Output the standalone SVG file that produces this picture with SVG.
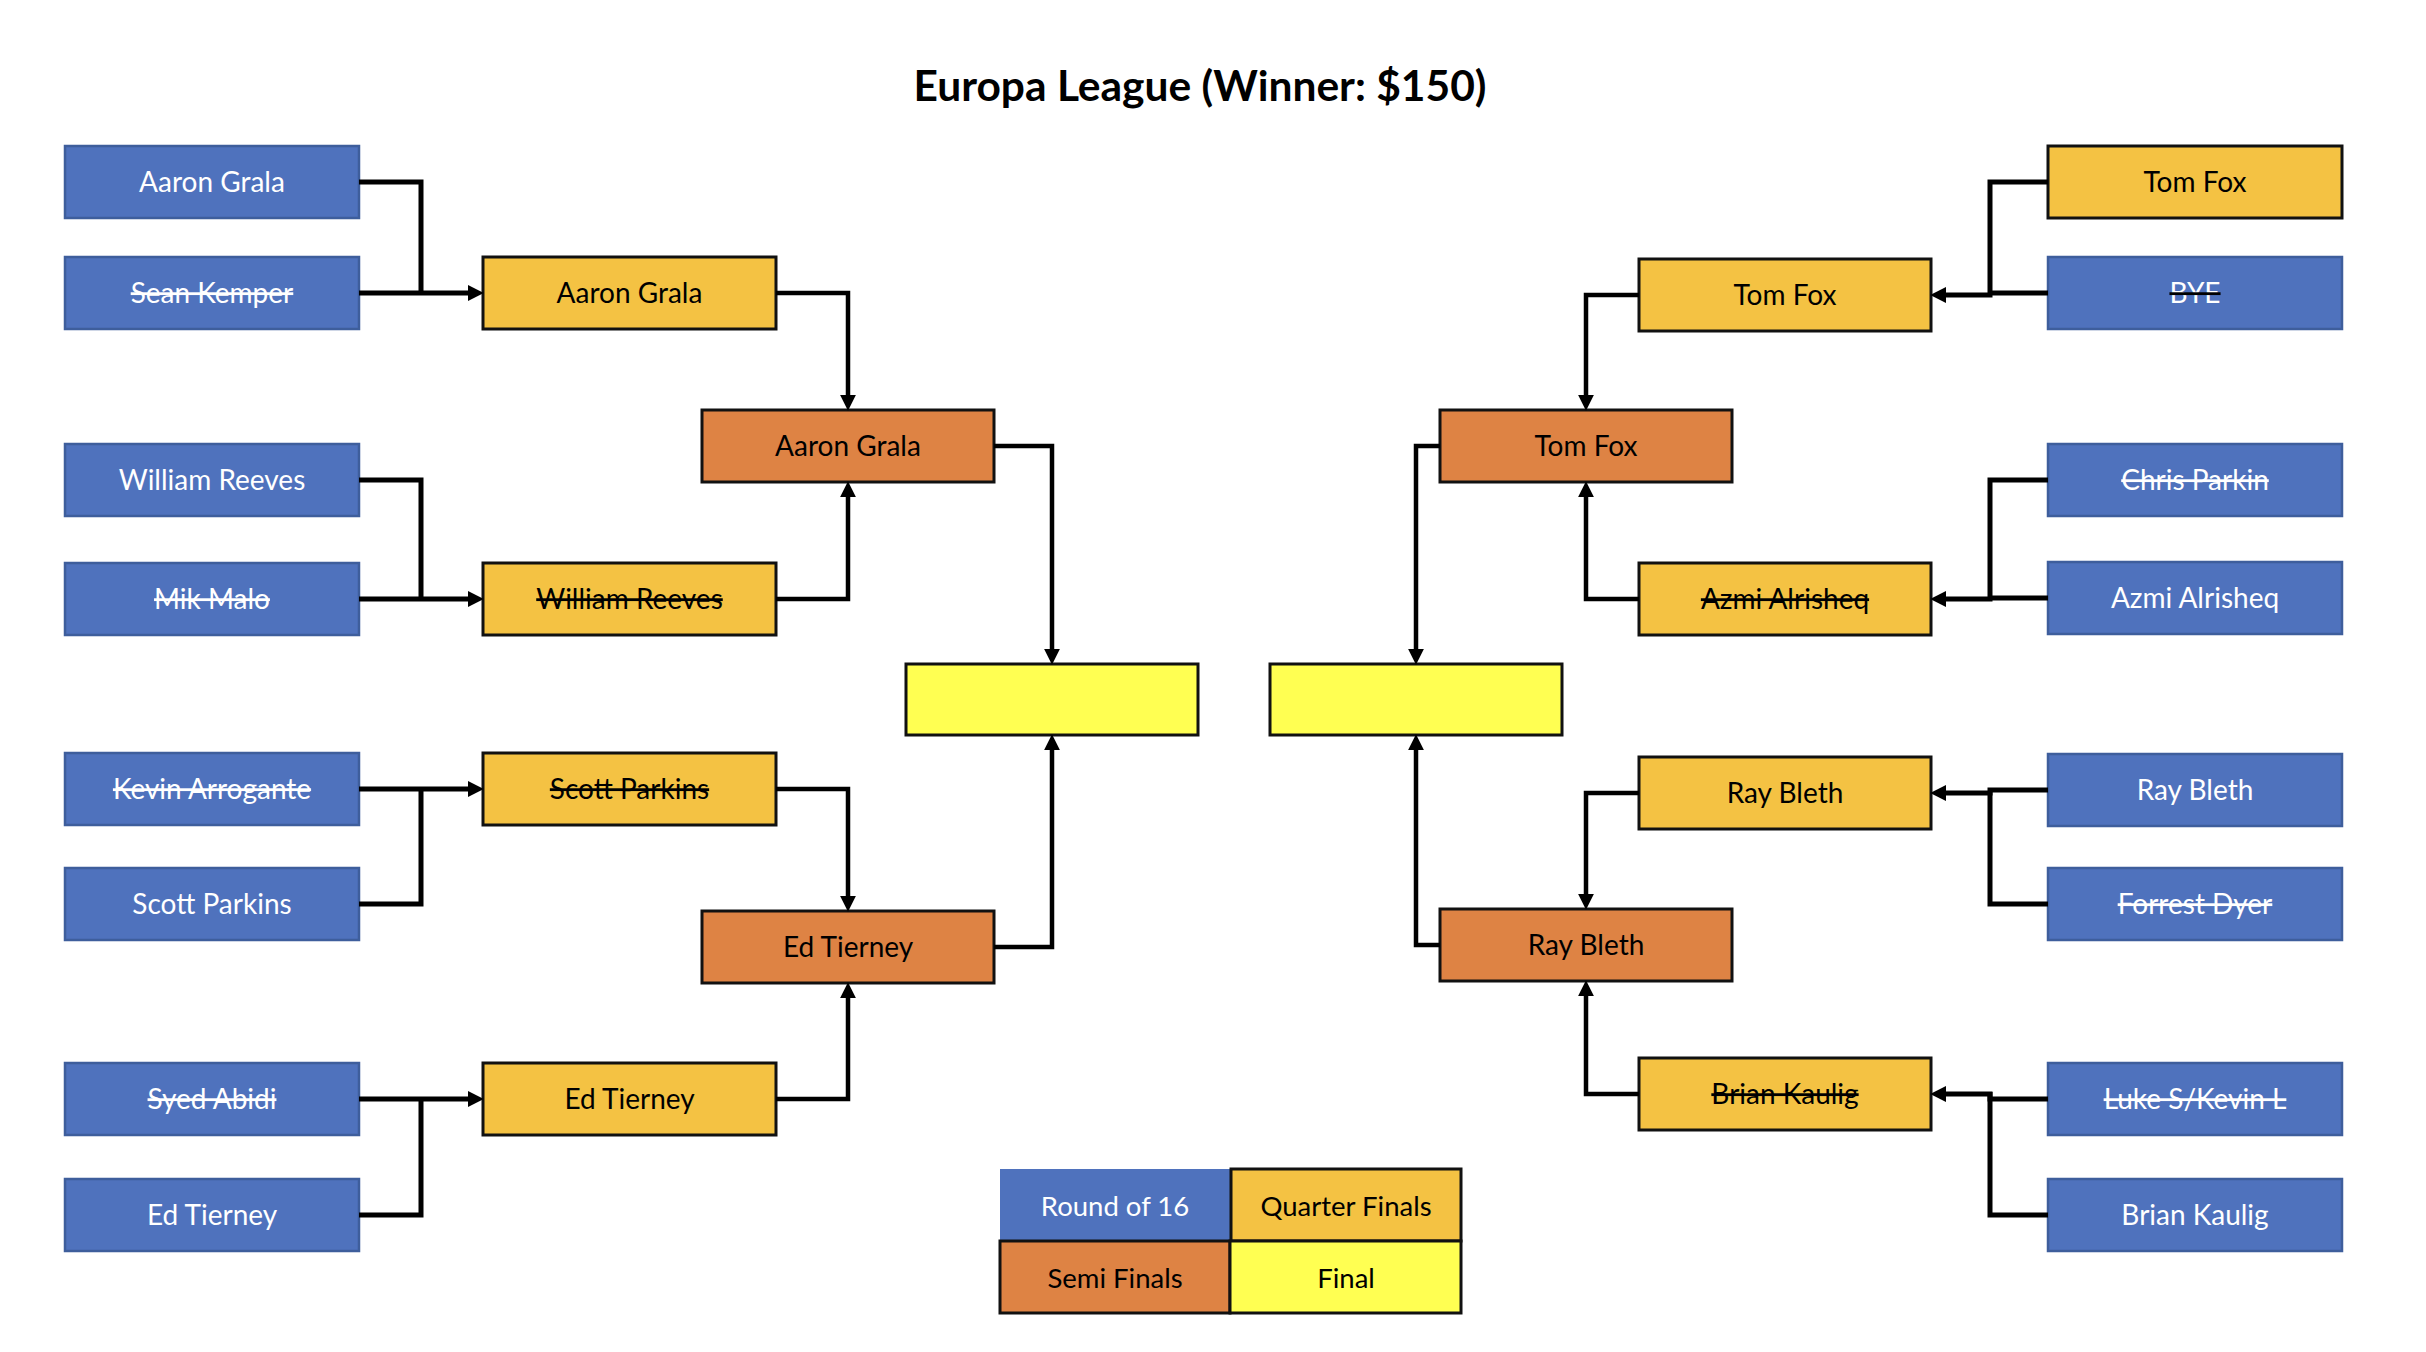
<svg xmlns="http://www.w3.org/2000/svg" width="2426" height="1352" viewBox="0 0 2426 1352">
<style>
text{font-family:Lato,"Liberation Sans",sans-serif;text-anchor:middle}
.t{font-size:28px}
.w{fill:#fff}
.k{fill:#000}
.s{text-decoration:line-through}
.r16{fill:#4F72BD;stroke:#3E5E9C;stroke-width:2.5}
.qf{fill:#F4C243;stroke:#111;stroke-width:3}
.sf{fill:#DE8344;stroke:#111;stroke-width:3}
.fn{fill:#FFFF52;stroke:#111;stroke-width:3}
.c{fill:none;stroke:#000;stroke-width:4.5}
.c5{fill:none;stroke:#000;stroke-width:5}
.lg{font-size:27.5px}
</style>
<defs>
<marker id="ah" markerUnits="userSpaceOnUse" markerWidth="16" markerHeight="16" viewBox="0 0 15 15" refX="3" refY="7.5" orient="auto">
<path d="M0,0 L15,7.5 L0,15 z" fill="#000"/>
</marker>
</defs>
<rect width="2426" height="1352" fill="#fff"/>
<text x="1200" y="101" style="font-size:42.5px;font-weight:700">Europa League (Winner: $150)</text>

<!-- Left round of 16 -->
<g id="l16-1"><rect class="r16" x="65" y="146" width="294" height="72"/><text class="t w" x="212" y="192">Aaron Grala</text></g>
<g id="l16-2"><rect class="r16" x="65" y="257" width="294" height="72"/><text class="t w s" x="212" y="303">Sean Kemper</text></g>
<g id="l16-3"><rect class="r16" x="65" y="444" width="294" height="72"/><text class="t w" x="212" y="490">William Reeves</text></g>
<g id="l16-4"><rect class="r16" x="65" y="563" width="294" height="72"/><text class="t w s" x="212" y="609">Mik Malo</text></g>
<g id="l16-5"><rect class="r16" x="65" y="753" width="294" height="72"/><text class="t w s" x="212" y="799">Kevin Arrogante</text></g>
<g id="l16-6"><rect class="r16" x="65" y="868" width="294" height="72"/><text class="t w" x="212" y="914">Scott Parkins</text></g>
<g id="l16-7"><rect class="r16" x="65" y="1063" width="294" height="72"/><text class="t w s" x="212" y="1109">Syed Abidi</text></g>
<g id="l16-8"><rect class="r16" x="65" y="1179" width="294" height="72"/><text class="t w" x="212" y="1225">Ed Tierney</text></g>

<!-- Left quarter finals -->
<g id="lqf-1"><rect class="qf" x="483" y="257" width="293" height="72"/><text class="t k" x="629.5" y="303">Aaron Grala</text></g>
<g id="lqf-2"><rect class="qf" x="483" y="563" width="293" height="72"/><text class="t k s" x="629.5" y="609">William Reeves</text></g>
<g id="lqf-3"><rect class="qf" x="483" y="753" width="293" height="72"/><text class="t k s" x="629.5" y="799">Scott Parkins</text></g>
<g id="lqf-4"><rect class="qf" x="483" y="1063" width="293" height="72"/><text class="t k" x="629.5" y="1109">Ed Tierney</text></g>

<!-- Left semi finals -->
<g id="lsf-1"><rect class="sf" x="702" y="410" width="292" height="72"/><text class="t k" x="848" y="456">Aaron Grala</text></g>
<g id="lsf-2"><rect class="sf" x="702" y="911" width="292" height="72"/><text class="t k" x="848" y="957">Ed Tierney</text></g>

<!-- Finals -->
<g id="final-l"><rect class="fn" x="906" y="664" width="292" height="71"/></g>
<g id="final-r"><rect class="fn" x="1270" y="664" width="292" height="71"/></g>

<!-- Right semi finals -->
<g id="rsf-1"><rect class="sf" x="1440" y="410" width="292" height="72"/><text class="t k" x="1586" y="456">Tom Fox</text></g>
<g id="rsf-2"><rect class="sf" x="1440" y="909" width="292" height="72"/><text class="t k" x="1586" y="955">Ray Bleth</text></g>

<!-- Right quarter finals -->
<g id="rqf-1"><rect class="qf" x="1639" y="259" width="292" height="72"/><text class="t k" x="1785" y="305">Tom Fox</text></g>
<g id="rqf-2"><rect class="qf" x="1639" y="563" width="292" height="72"/><text class="t k s" x="1785" y="609">Azmi Alrisheq</text></g>
<g id="rqf-3"><rect class="qf" x="1639" y="757" width="292" height="72"/><text class="t k" x="1785" y="803">Ray Bleth</text></g>
<g id="rqf-4"><rect class="qf" x="1639" y="1058" width="292" height="72"/><text class="t k s" x="1785" y="1104">Brian Kaulig</text></g>

<!-- Right round of 16 -->
<g id="r16-1"><rect class="qf" x="2048" y="146" width="294" height="72"/><text class="t k" x="2195" y="192">Tom Fox</text></g>
<g id="r16-2"><rect class="r16" x="2048" y="257" width="294" height="72"/><text class="t k s" x="2195" y="303"><tspan class="w">BYE</tspan></text></g>
<g id="r16-3"><rect class="r16" x="2048" y="444" width="294" height="72"/><text class="t w s" x="2195" y="490">Chris Parkin</text></g>
<g id="r16-4"><rect class="r16" x="2048" y="562" width="294" height="72"/><text class="t w" x="2195" y="608">Azmi Alrisheq</text></g>
<g id="r16-5"><rect class="r16" x="2048" y="754" width="294" height="72"/><text class="t w" x="2195" y="800">Ray Bleth</text></g>
<g id="r16-6"><rect class="r16" x="2048" y="868" width="294" height="72"/><text class="t w s" x="2195" y="914">Forrest Dyer</text></g>
<g id="r16-7"><rect class="r16" x="2048" y="1063" width="294" height="72"/><text class="t w s" x="2195" y="1109">Luke S/Kevin L</text></g>
<g id="r16-8"><rect class="r16" x="2048" y="1179" width="294" height="72"/><text class="t w" x="2195" y="1225">Brian Kaulig</text></g>

<!-- Legend -->
<g id="legend">
<rect class="r16" x="1000" y="1169" width="231" height="72" style="stroke:none"/>
<rect class="qf" x="1231" y="1169" width="230" height="72"/>
<rect class="sf" x="1000" y="1241" width="230" height="72"/>
<rect class="fn" x="1230" y="1241" width="231" height="72"/>
<text class="lg w" x="1115" y="1215.5">Round of 16</text>
<text class="lg k" x="1346" y="1215.5">Quarter Finals</text>
<text class="lg k" x="1115" y="1287.5">Semi Finals</text>
<text class="lg k" x="1346" y="1287.5">Final</text>
</g>

<!-- Connectors -->
<g id="connectors">
<path class="c5" d="M359,182 H421 V295"/>
<path class="c5" d="M359,293 H471" marker-end="url(#ah)"/>
<path class="c5" d="M359,480 H421 V601"/>
<path class="c5" d="M359,599 H471" marker-end="url(#ah)"/>
<path class="c5" d="M359,904 H421 V787"/>
<path class="c5" d="M359,789 H471" marker-end="url(#ah)"/>
<path class="c5" d="M359,1215 H421 V1097"/>
<path class="c5" d="M359,1099 H471" marker-end="url(#ah)"/>

<path class="c" d="M776,293 H848 V398" marker-end="url(#ah)"/>
<path class="c" d="M776,599 H848 V494" marker-end="url(#ah)"/>
<path class="c" d="M776,789 H848 V899" marker-end="url(#ah)"/>
<path class="c" d="M776,1099 H848 V995" marker-end="url(#ah)"/>
<path class="c" d="M994,446 H1052 V652" marker-end="url(#ah)"/>
<path class="c" d="M994,947 H1052 V747" marker-end="url(#ah)"/>

<path class="c5" d="M2048,182 H1990 V295 H1943" marker-end="url(#ah)"/>
<path class="c5" d="M2048,293 H1990"/>
<path class="c5" d="M2048,480 H1990 V599 H1943" marker-end="url(#ah)"/>
<path class="c5" d="M2048,598 H1990"/>
<path class="c5" d="M2048,790 H1990 V793 H1943" marker-end="url(#ah)"/>
<path class="c5" d="M2048,904 H1990 V791"/>
<path class="c5" d="M2048,1099 H1990 V1094 H1943" marker-end="url(#ah)"/>
<path class="c5" d="M2048,1215 H1990 V1092"/>

<path class="c" d="M1639,295 H1586 V398" marker-end="url(#ah)"/>
<path class="c" d="M1639,599 H1586 V494" marker-end="url(#ah)"/>
<path class="c" d="M1639,793 H1586 V897" marker-end="url(#ah)"/>
<path class="c" d="M1639,1094 H1586 V993" marker-end="url(#ah)"/>
<path class="c" d="M1440,446 H1416 V652" marker-end="url(#ah)"/>
<path class="c" d="M1440,945 H1416 V747" marker-end="url(#ah)"/>
</g>
</svg>
